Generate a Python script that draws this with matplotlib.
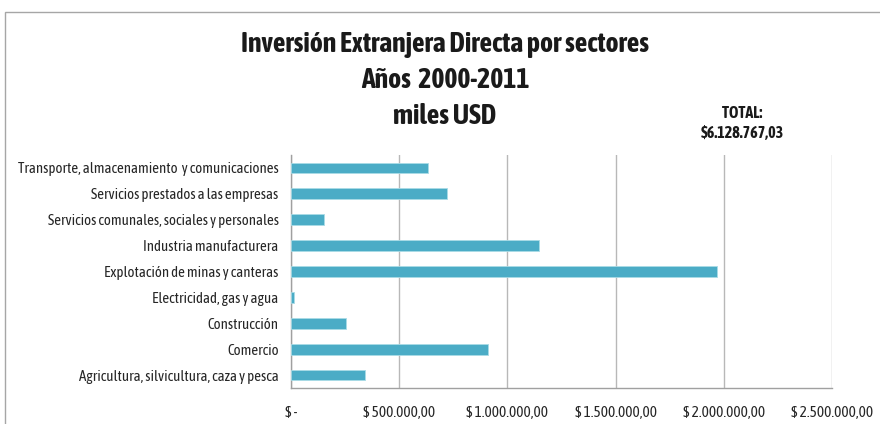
import matplotlib
matplotlib.use("Agg")
import matplotlib.pyplot as plt
from matplotlib import font_manager
import matplotlib.patheffects as pe
from matplotlib.ticker import FuncFormatter, MultipleLocator
from matplotlib.patches import Rectangle

categories = [
    "Agricultura, silvicultura, caza y pesca",
    "Comercio",
    "Construcción",
    "Electricidad, gas y agua",
    "Explotación de minas y canteras",
    "Industria manufacturera",
    "Servicios comunales, sociales y personales",
    "Servicios prestados a las empresas",
    "Transporte, almacenamiento  y comunicaciones",
]
values = [344000, 911000, 255000, 16000, 1968000, 1144000, 154000, 720000, 631000]
title_lines = ["Inversión Extranjera Directa por sectores", "Años  2000-2011", "miles USD"]
total_text = ["TOTAL:", "$6.128.767,03"]

entries = [f for f in font_manager.fontManager.ttflist if ("Narrow" in f.name or "Condensed" in f.name)]
fams = sorted({f.name for f in entries})
has_bold = [n for n in fams if any(f.name == n and (f.weight in ("bold", 700, 600) or (isinstance(f.weight, int) and f.weight >= 600)) for f in entries)]
narrow_fam = (has_bold or fams or [None])[0]
FONT = ([narrow_fam] if narrow_fam else []) + ["Liberation Sans", "DejaVu Sans"]
plt.rcParams["font.family"] = FONT
bold_fx = [] if has_bold else [pe.withStroke(linewidth=0.9, foreground="#1a1a1a")]

W, H = 880, 424
fig = plt.figure(figsize=(W / 100, H / 100), dpi=100)

fig.patches.append(Rectangle((5 / W, -0.1), 1.2, 1 - 12 / H + 0.1, transform=fig.transFigure,
                             fill=False, edgecolor="#a6a6a6", linewidth=1.0))

ax = fig.add_axes([291 / W, 1 - 388 / H, (832 - 291) / W, (388 - 155) / H])
ypos = list(range(len(categories)))
ax.barh(ypos, values, height=0.42, color="#4BACC6", edgecolor="#a9dbe6", linewidth=0.6, zorder=3)
ax.set_ylim(-0.5, len(categories) - 0.5)
ax.set_xlim(0, 2500000)
ax.xaxis.set_major_locator(MultipleLocator(500000))


def fmt(v, pos):
    if v == 0:
        return "$ -"
    s = f"{v:,.2f}".replace(",", "X").replace(".", ",").replace("X", ".")
    return "$ " + s


ax.xaxis.set_major_formatter(FuncFormatter(fmt))
ax.set_yticks(ypos)
ax.set_yticklabels(categories, fontsize=10.7, color="#262626")
ax.tick_params(axis="y", length=0, pad=9)
ax.tick_params(axis="x", length=0, pad=13, labelsize=11, colors="#262626")
ax.grid(axis="x", color="#b8b8b8", linewidth=1.0, zorder=0)
for s in ["top", "right"]:
    ax.spines[s].set_visible(False)
for s in ["left", "bottom"]:
    ax.spines[s].set_color("#a0a0a0")
    ax.spines[s].set_linewidth(1.0)

ys = [45, 80, 117]
for t, y in zip(title_lines, ys):
    fig.text(445 / W, 1 - y / H, t, ha="center", va="center", fontsize=20, fontweight="bold",
             color="#1a1a1a", path_effects=bold_fx)

for t, y in zip(total_text, [113, 133]):
    fig.text(742 / W, 1 - y / H, t, ha="center", va="center", fontsize=11.5, fontweight="bold",
             color="#1a1a1a", path_effects=[pe.withStroke(linewidth=0.5, foreground="#1a1a1a")] if not has_bold else [])

fig.savefig("out.png", dpi=100)
